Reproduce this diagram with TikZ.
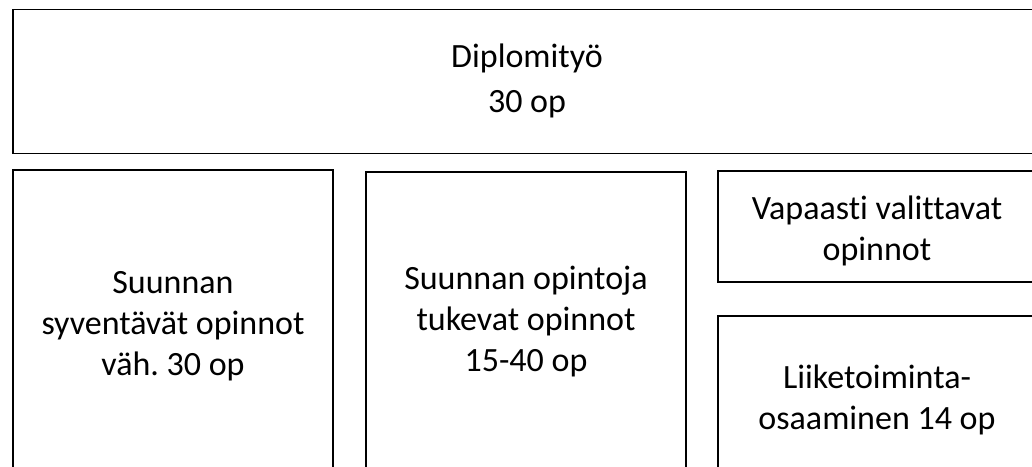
\documentclass[tikz,border=0pt]{standalone}
\usepackage{fontspec}
\setmainfont{Carlito}[RawFeature=-liga]
\frenchspacing
\begin{document}
\begin{tikzpicture}[x=1pt,y=-1pt,
    block/.style={line width=1.3pt},
    label/.style={align=center,inner sep=0pt,font=\fontsize{34}{41}\selectfont}]

        % Page frame
        \useasboundingbox (0,0) rectangle (1032,466);
        \clip (0,0) rectangle (1032,466);

        % Draw the thesis box on top
        \draw[block] (13,9.5) rectangle (1041,153.5);
        \node[label,font=\fontsize{34}{45}\selectfont] (thesis) at (527,81) {Diplomityö\\30 op};

        % Draw the boxes below (cut at the bottom)
        \draw[block] (13,170) rectangle (333,490);
        \node[label] (advanced) at (173,326.5) {Suunnan\\syventävät opinnot\\väh. 30 op};

        \draw[block] (366,172) rectangle (686,490);
        \node[label] (supporting) at (526,322) {Suunnan opintoja\\tukevat opinnot\\15-40 op};

        \draw[block] (718,171) rectangle (1037,282);
        \node[label] (elective) at (877,230.5) {Vapaasti valittavat\\opinnot};

        \draw[block] (718,316) rectangle (1037,490);
        \node[label] (business) at (877,400) {Liiketoiminta-\\osaaminen 14 op};
    \end{tikzpicture}
\end{document}
